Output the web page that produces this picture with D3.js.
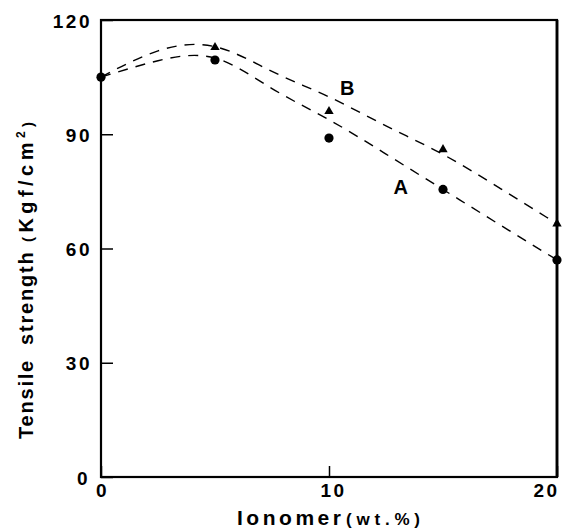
<!DOCTYPE html>
<html>
<head>
<meta charset="utf-8">
<script src="https://cdn.jsdelivr.net/npm/d3@7/dist/d3.min.js"></script>
<style>
  html, body { margin: 0; padding: 0; background: #fff; }
  svg { display: block; }
  text { font-family: "Liberation Sans", Arial, sans-serif; font-weight: bold; fill: #000; }
</style>
</head>
<body>
<svg id="chart" width="566" height="529"></svg>
<script>
// ---- data ----
const xTicks = [0, 10, 20];
const yTicks = [0, 30, 60, 90, 120];

// measured points
const xA = [0, 5, 10, 15, 20];
const yA = [105, 109.5, 89, 75.5, 57];          // series A (circles)
const xB = [5, 10, 15, 20];
const yB = [112.8, 96, 86, 66.5];                // series B (triangles)

// dashed fitted curves
const curveAx = [0, 2.5, 5, 7.5, 10, 12.5, 15, 17.5, 20];
const curveAy = [105, 109.3, 110, 102, 93.8, 84.8, 75.5, 66.2, 57];
const curveBx = [0, 2.5, 5, 7.5, 10, 12.5, 15, 17.5, 20];
const curveBy = [105, 111.9, 113, 106.5, 99.8, 92.2, 84.7, 75.8, 66.5];

const seriesLabels = [
  { name: "A", x: 13.15, y: 74.3 },
  { name: "B", x: 10.8, y: 100.3 }
];

// ---- layout ----
const svg = d3.select("#chart");
const mLeft = 101, mRight = 557, mTop = 20, mBottom = 477;
const x = d3.scaleLinear().domain([0, 20]).range([mLeft, mRight]);
const y = d3.scaleLinear().domain([0, 120]).range([mBottom, mTop]);

// frame
svg.append("rect")
  .attr("x", mLeft).attr("y", mTop)
  .attr("width", mRight - mLeft).attr("height", mBottom - mTop)
  .attr("fill", "none").attr("stroke", "#000").attr("stroke-width", 2.2);
svg.append("line")
  .attr("x1", mRight).attr("x2", mRight).attr("y1", mTop).attr("y2", mBottom)
  .attr("stroke", "#000").attr("stroke-width", 2.8);

// y axis (ticks inward)
const yAxis = d3.axisLeft(y).tickValues(yTicks).tickSizeInner(-12).tickSizeOuter(0).tickPadding(9)
  .tickFormat(d3.format("d"));
const gy = svg.append("g").attr("transform", `translate(${mLeft},0)`).call(yAxis);
gy.select(".domain").remove();
gy.selectAll(".tick line").attr("stroke", "#000").attr("stroke-width", 1.5);
gy.selectAll(".tick text")
  .style("font-size", "19px").style("letter-spacing", "2.5px")
  .attr("fill", "#000")
  .attr("dy", d => d === 0 ? "0.42em" : "0.38em")
  .attr("dx", d => d === 0 ? "-2" : "0");

// x axis (ticks inward)
const xAxis = d3.axisBottom(x).tickValues(xTicks).tickSizeInner(-11).tickSizeOuter(0).tickPadding(3)
  .tickFormat(d3.format("d"));
const gx = svg.append("g").attr("transform", `translate(0,${mBottom})`).call(xAxis);
gx.select(".domain").remove();
gx.selectAll(".tick line").attr("stroke", "#000").attr("stroke-width", 1.5);
gx.selectAll(".tick text")
  .style("font-size", "19px").style("letter-spacing", "2.5px")
  .attr("fill", "#000")
  .attr("y", 7).attr("dy", "0.71em")
  .attr("dx", d => d === 20 ? "-11" : (d === 10 ? "4" : "1"));

// dashed curves
const line = d3.line().x(d => x(d[0])).y(d => y(d[1])).curve(d3.curveNatural);
[[curveAx, curveAy], [curveBx, curveBy]].forEach(([cx, cy]) => {
  svg.append("path")
    .datum(cx.map((v, i) => [v, cy[i]]))
    .attr("d", line)
    .attr("fill", "none").attr("stroke", "#000")
    .attr("stroke-width", 1.4).attr("stroke-dasharray", "10,8");
});

// markers
svg.append("g").selectAll("circle")
  .data(xA.map((v, i) => [v, yA[i]]))
  .join("circle")
  .attr("cx", d => x(d[0])).attr("cy", d => y(d[1])).attr("r", 4.6).attr("fill", "#000");

const tri = d3.symbol().type(d3.symbolTriangle).size(38);
svg.append("g").selectAll("path")
  .data(xB.map((v, i) => [v, yB[i]]))
  .join("path")
  .attr("d", tri)
  .attr("transform", d => `translate(${x(d[0])},${y(d[1])})`)
  .attr("fill", "#000");

// series labels
svg.append("g").selectAll("text")
  .data(seriesLabels)
  .join("text")
  .attr("x", d => x(d.x)).attr("y", d => y(d.y))
  .attr("text-anchor", "middle")
  .style("font-size", "20px")
  .text(d => d.name);

// x-axis title
svg.append("text")
  .attr("x", 237).attr("y", 525)
  .attr("textLength", 104).attr("lengthAdjust", "spacing")
  .style("font-size", "21px")
  .text("Ionomer");
svg.append("text")
  .attr("x", 346).attr("y", 525)
  .attr("textLength", 74).attr("lengthAdjust", "spacing")
  .style("font-size", "17px")
  .text("(wt.%)");

// y-axis title (rotated)
const yTitle = svg.append("g").attr("transform", "translate(33,0) rotate(-90)");
yTitle.append("text")
  .attr("x", -439).attr("y", 0)
  .style("font-size", "20px").style("letter-spacing", "1.8px")
  .text("Tensile");
yTitle.append("text")
  .attr("x", -345).attr("y", 0)
  .style("font-size", "20px").style("letter-spacing", "1.8px")
  .text("strength");
const unit = yTitle.append("text")
  .attr("x", -242).attr("y", 0)
  .attr("textLength", 120).attr("lengthAdjust", "spacing")
  .style("font-size", "20px");
unit.append("tspan").style("font-size", "15px").text("(");
unit.append("tspan").text("Kgf/cm");
unit.append("tspan").style("font-size", "12px").attr("dy", "-8").text("2");
unit.append("tspan").style("font-size", "15px").attr("dy", "8").text(")");
</script>
</body>
</html>
